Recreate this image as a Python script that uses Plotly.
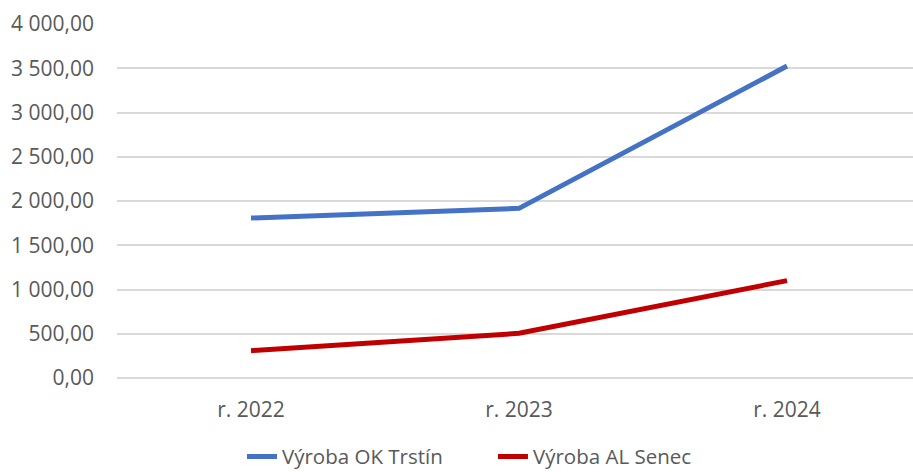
import plotly.graph_objects as go

categories = ["r. 2022", "r. 2023", "r. 2024"]
trstin = [1808, 1917, 3525]
senec = [309, 505, 1100]
series_names = ["Výroba OK Trstín", "Výroba AL Senec"]
tick_vals = [0, 500, 1000, 1500, 2000, 2500, 3000, 3500, 4000]

FONT = "Open Sans"
TXT = "#595959"

fig = go.Figure()
fig.add_trace(go.Scatter(x=categories, y=trstin, mode="lines", name=series_names[0],
                         line=dict(color="#4472C4", width=5)))
fig.add_trace(go.Scatter(x=categories, y=senec, mode="lines", name=series_names[1],
                         line=dict(color="#C00000", width=5)))

fig.update_layout(
    width=913, height=472,
    margin=dict(l=117, r=0, t=24, b=94, autoexpand=False),
    paper_bgcolor="white", plot_bgcolor="white",
    separators=", ",
    font=dict(family=FONT, size=21, color=TXT),
    showlegend=True,
    legend=dict(orientation="h", x=0.157, xanchor="left", y=-0.222, yanchor="middle",
                font=dict(family=FONT, size=20.5, color=TXT), itemwidth=30,
                entrywidth=206, traceorder="normal"),
    xaxis=dict(type="category", range=[-0.5, 2.47], showgrid=False, zeroline=False,
               showline=False, ticks="", ticklabelstandoff=17, automargin=False,
               tickfont=dict(family=FONT, size=21, color=TXT)),
    yaxis=dict(range=[0, 4000], tickvals=tick_vals, tickformat=",.2f",
               showgrid=True, gridcolor="#D9D9D9", gridwidth=1.5,
               zeroline=True, zerolinecolor="#D9D9D9", zerolinewidth=1.5,
               showline=False, ticks="", ticklabelstandoff=22, automargin=False,
               tickfont=dict(family=FONT, size=21, color=TXT)),
)

fig.write_html("out.html", config={"displayModeBar": False},
               post_script="document.body.style.margin='0';document.body.style.overflow='hidden';")
